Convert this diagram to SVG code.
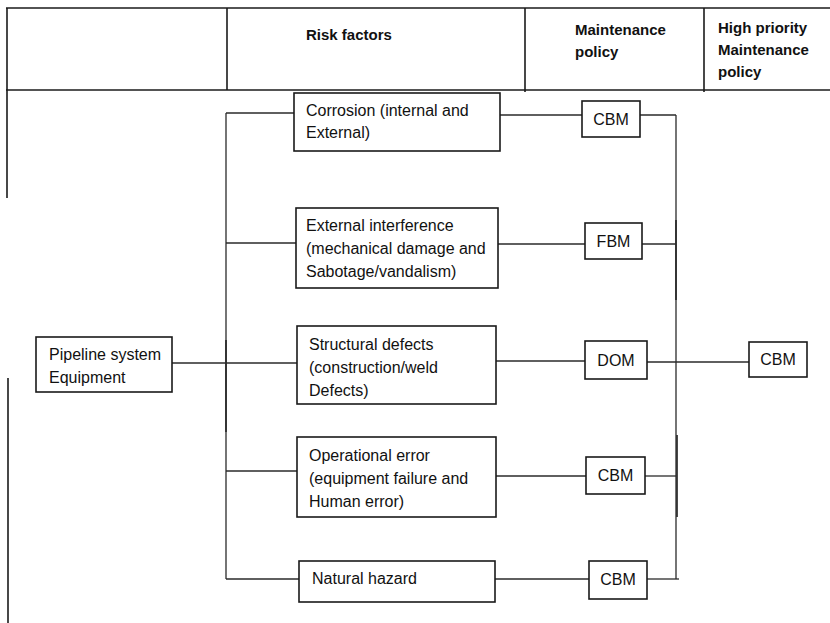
<svg xmlns="http://www.w3.org/2000/svg" width="830" height="623" viewBox="0 0 830 623">
  <style>
    .frame { stroke: #1a1a1a; stroke-width: 1.6; fill: none; }
    .box { fill: #ffffff; stroke: #1a1a1a; stroke-width: 1.6; }
    .wire { stroke: #2a2a2a; stroke-width: 1.3; fill: none; }
    .wire-dup { stroke: #2a2a2a; stroke-width: 1.7; fill: none; }
    .hd { font-family: "Liberation Sans", Arial, sans-serif; font-size: 15px; font-weight: bold; fill: #111; }
    .lbl { font-family: "Liberation Sans", Arial, sans-serif; font-size: 16px; fill: #111; }
    .mid { text-anchor: middle; }
  </style>
  <defs>
    <clipPath id="hdClip"><rect x="704" y="8" width="126" height="72"/></clipPath>
  </defs>
  <rect width="830" height="623" fill="#ffffff"/>

  <!-- table frame and header -->
  <g id="header">
    <line class="frame" x1="6" y1="8" x2="830" y2="8"/>
    <line class="frame" x1="6" y1="90" x2="830" y2="90" stroke-width="2.2"/>
    <line class="frame" x1="7" y1="8" x2="7" y2="198"/>
    <line class="frame" x1="8" y1="378" x2="8" y2="623"/>
    <line class="frame" x1="227" y1="8" x2="227" y2="90"/>
    <line class="frame" x1="525" y1="8" x2="525" y2="92"/>
    <line class="frame" x1="704" y1="8" x2="704" y2="92"/>
    <text class="hd" x="306" y="40">Risk factors</text>
    <text class="hd" x="575" y="35">Maintenance</text>
    <text class="hd" x="575" y="57">policy</text>
    <g clip-path="url(#hdClip)">
      <text class="hd" x="718" y="33">High priority</text>
      <text class="hd" x="718" y="55">Maintenance</text>
      <text class="hd" x="718" y="77">policy</text>
    </g>
  </g>

  <!-- connectors -->
  <g id="connectors">
    <!-- left bus -->
    <line class="wire" x1="226" y1="113" x2="226" y2="579"/>
    <line class="wire-dup" x1="226" y1="340" x2="226" y2="432"/>
    <line class="wire" x1="226" y1="113" x2="294" y2="113"/>
    <line class="wire" x1="226" y1="243" x2="296" y2="243"/>
    <line class="wire" x1="172" y1="363" x2="297" y2="363"/>
    <line class="wire" x1="226" y1="471" x2="297" y2="471"/>
    <line class="wire" x1="226" y1="579" x2="299" y2="579"/>
    <!-- risk factor to policy -->
    <line class="wire" x1="498" y1="115" x2="582" y2="115"/>
    <line class="wire" x1="498" y1="244" x2="585" y2="244"/>
    <line class="wire" x1="496" y1="361" x2="585" y2="361"/>
    <line class="wire" x1="496" y1="476" x2="586" y2="476"/>
    <line class="wire" x1="495" y1="579" x2="589" y2="579"/>
    <!-- right bus -->
    <line class="wire" x1="676" y1="115" x2="676" y2="579"/>
    <line class="wire-dup" x1="676" y1="220" x2="676" y2="300"/>
    <line class="wire-dup" x1="677" y1="435" x2="677" y2="517"/>
    <line class="wire" x1="640" y1="115" x2="676" y2="115"/>
    <line class="wire" x1="642" y1="244" x2="676" y2="244"/>
    <line class="wire" x1="647" y1="362" x2="749" y2="362"/>
    <line class="wire" x1="645" y1="476" x2="676" y2="476"/>
    <line class="wire" x1="647" y1="579" x2="679" y2="579"/>
  </g>

  <!-- nodes -->
  <g id="pipeline">
    <rect class="box" x="36" y="337" width="136" height="55"/>
    <text class="lbl" x="49" y="360">Pipeline system</text>
    <text class="lbl" x="49" y="383">Equipment</text>
  </g>

  <g id="corrosion">
    <rect class="box" x="294" y="93" width="206" height="58"/>
    <text class="lbl" x="306" y="116">Corrosion (internal and</text>
    <text class="lbl" x="306" y="138">External)</text>
  </g>

  <g id="external">
    <rect class="box" x="296" y="208" width="202" height="80"/>
    <text class="lbl" x="306" y="231">External interference</text>
    <text class="lbl" x="306" y="254">(mechanical damage and</text>
    <text class="lbl" x="306" y="277">Sabotage/vandalism)</text>
  </g>

  <g id="structural">
    <rect class="box" x="297" y="326" width="199" height="78"/>
    <text class="lbl" x="309" y="350">Structural defects</text>
    <text class="lbl" x="309" y="373">(construction/weld</text>
    <text class="lbl" x="309" y="396">Defects)</text>
  </g>

  <g id="operational">
    <rect class="box" x="297" y="437" width="199" height="80"/>
    <text class="lbl" x="309" y="461">Operational error</text>
    <text class="lbl" x="309" y="484">(equipment failure and</text>
    <text class="lbl" x="309" y="507">Human error)</text>
  </g>

  <g id="natural">
    <rect class="box" x="299" y="561" width="196" height="41"/>
    <text class="lbl" x="312" y="584">Natural hazard</text>
  </g>

  <g id="policy-corrosion">
    <rect class="box" x="582" y="101" width="58" height="36"/>
    <text class="lbl mid" x="611" y="125">CBM</text>
  </g>

  <g id="policy-external">
    <rect class="box" x="585" y="223" width="57" height="36"/>
    <text class="lbl mid" x="613.5" y="247">FBM</text>
  </g>

  <g id="policy-structural">
    <rect class="box" x="585" y="341" width="62" height="38"/>
    <text class="lbl mid" x="616" y="366">DOM</text>
  </g>

  <g id="policy-operational">
    <rect class="box" x="586" y="457" width="59" height="37"/>
    <text class="lbl mid" x="615.5" y="481">CBM</text>
  </g>

  <g id="policy-natural">
    <rect class="box" x="589" y="561" width="58" height="38"/>
    <text class="lbl mid" x="618" y="585">CBM</text>
  </g>

  <g id="priority-policy">
    <rect class="box" x="749" y="342" width="58" height="35"/>
    <text class="lbl mid" x="778" y="365">CBM</text>
  </g>
</svg>
